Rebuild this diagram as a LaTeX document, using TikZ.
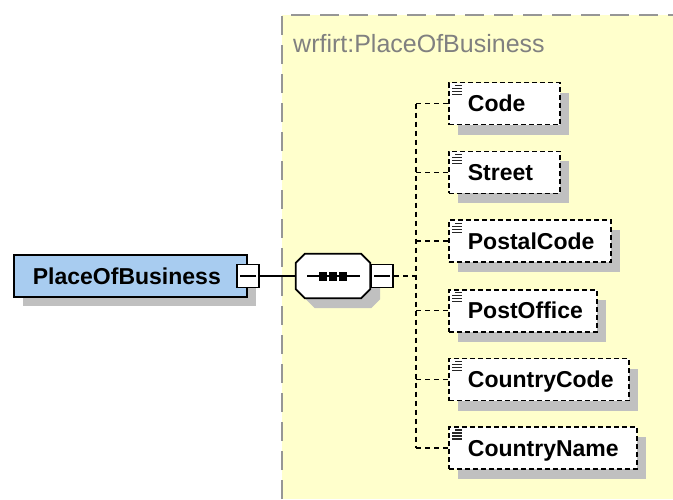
\documentclass[tikz,border=0pt]{standalone}
\usepackage{fontspec}
\setmainfont{Liberation Sans}
\usetikzlibrary{shadows}
\definecolor{bgyellow}{RGB}{255,255,204}
\definecolor{framegray}{RGB}{150,150,150}
\definecolor{shadowgray}{RGB}{192,192,192}
\definecolor{elemblue}{RGB}{168,204,240}
\definecolor{titlegray}{RGB}{128,128,128}
\newcommand\xoctagon[2]{%
  \path[#2] ([xshift=9pt]#1.north west) -- ([xshift=-9pt]#1.north east)
    -- ([yshift=-9pt]#1.north east) -- ([yshift=9pt]#1.south east)
    -- ([xshift=-9pt]#1.south east) -- ([xshift=9pt]#1.south west)
    -- ([yshift=9pt]#1.south west) -- ([yshift=-9pt]#1.north west) -- cycle;}
\begin{document}
\begin{tikzpicture}[x=1pt,y=-1pt,
  elemfont/.style={font=\fontsize{23}{27}\selectfont\bfseries},
  mainel/.style={rectangle, fill=elemblue, draw=black, line width=1.8pt,
    minimum height=42pt, inner xsep=19pt, inner ysep=0pt,
    text height=16.5pt, text depth=0pt, elemfont, anchor=west,
    copy shadow={shadow xshift=9pt, shadow yshift=-9pt, fill=shadowgray, draw=none}},
  childel/.style={rectangle, fill=white, draw=black, line width=1.8pt,
    dash pattern=on 5pt off 3pt,
    minimum height=42pt, inner xsep=19pt, inner ysep=0pt,
    text height=16.5pt, text depth=0pt, elemfont, anchor=west,
    copy shadow={shadow xshift=9pt, shadow yshift=-10pt, fill=shadowgray, draw=none}},
  minusbox/.style={rectangle, draw=black, fill=white, line width=1.8pt,
    minimum width=22pt, minimum height=23pt, inner sep=0pt,
    path picture={\draw[line width=1.6pt]
      ([xshift=3pt]path picture bounding box.west) --
      ([xshift=-3pt]path picture bounding box.east);}},
  seqframe/.style={rectangle, minimum width=74pt, minimum height=44pt, inner sep=0pt},
  solidconn/.style={draw=black, line width=1.7pt},
  dashconn/.style={draw=black, line width=1.7pt, dash pattern=on 5pt off 4pt},
  docicon/.style={draw=black!85, line width=1.4pt}
]
% canvas
\fill[white] (0,0) rectangle (673,499);
\useasboundingbox (0,0) rectangle (673,499);
\fill[bgyellow] (282,15) rectangle (673,499);
\draw[framegray, line width=2pt, dash pattern=on 19pt off 10pt] (282,499) -- (282,15) -- (673,15);
\node[anchor=base west, text=titlegray, inner sep=0pt,
  font=\fontsize{25}{29}\selectfont] (title) at (293,52) {wrfirt:PlaceOfBusiness};

% root element
\node[mainel] (pob) at (13,276) {\makebox[195pt][l]{PlaceOfBusiness}};
\node[minusbox] (pobm) at (pob.east) {};

% sequence compositor
\node[seqframe] (seqsh) at (343,286) {};
\node[seqframe] (seq) at (333,276) {};
\xoctagon{seqsh}{fill=shadowgray}
\xoctagon{seq}{fill=white, draw=black, line width=1.8pt}
\draw[solidconn] ([xshift=-26pt]seq.center) -- ([xshift=27pt]seq.center);
\foreach \dx in {-10pt,0pt,10pt}
  \fill ([xshift=\dx]seq.center) +(-4,-4.5) rectangle +(4,4.5);
\node[minusbox, anchor=west] (seqm) at (seq.east) {};

% children
\node[childel] (c1) at (448,103.5) {\makebox[73pt][l]{Code}};
\node[childel] (c2) at (448,172.4) {\makebox[73pt][l]{Street}};
\node[childel] (c3) at (448,241.3) {\makebox[124pt][l]{PostalCode}};
\node[childel] (c4) at (448,310.6) {\makebox[110pt][l]{PostOffice}};
\node[childel] (c5) at (448,379.5) {\makebox[142pt][l]{CountryCode}};
\node[childel] (c6) at (448,448) {\makebox[150pt][l]{CountryName}};
\foreach \n in {c1,c2,c3,c4,c5,c6} {
  \draw[docicon] ([xshift=7pt,yshift=-4pt]\n.north west) -- ++(7,0);
  \foreach \dy in {-7pt,-10pt,-13pt}
    \draw[docicon] ([xshift=4pt,yshift=\dy]\n.north west) -- ++(10,0);
}

% connectors
\coordinate (spine) at (416,276);
\draw[solidconn] (pobm.east) -- (seq.west);
\draw[dashconn] (seqm.east) -- (spine);
\draw[dashconn] (spine |- c1.west) -- (spine |- c6.west);
\foreach \n in {c1,c2,c3,c4,c5,c6}
  \draw[dashconn] (spine |- \n.west) -- (\n.west);
\end{tikzpicture}
\end{document}
